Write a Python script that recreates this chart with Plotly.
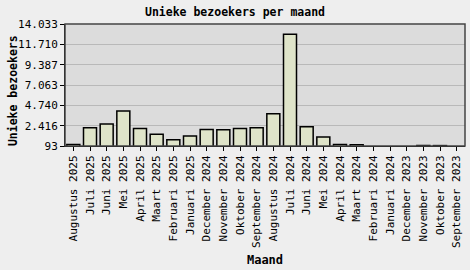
import plotly.graph_objects as go

months = ["Augustus 2025", "Juli 2025", "Juni 2025", "Mei 2025", "April 2025", "Maart 2025",
          "Februari 2025", "Januari 2025", "December 2024", "November 2024", "Oktober 2024",
          "September 2024", "Augustus 2024", "Juli 2024", "Juni 2024", "Mei 2024", "April 2024",
          "Maart 2024", "Februari 2024", "Januari 2024", "December 2023", "November 2023",
          "Oktober 2023", "September 2023"]
visitors = [260, 2190, 2610, 4100, 2080, 1440, 800, 1230, 1975, 1960, 2080, 2190, 3785,
            12860, 2295, 1125, 270, 250, 0, 0, 0, 150, 140, 0]
y_ticks = [93, 2416, 4740, 7063, 9387, 11710, 14033]
y_ticktext = ["93", "2.416", "4.740", "7.063", "9.387", "11.710", "14.033"]

mono = "DejaVu Sans Mono"

fig = go.Figure(go.Bar(
    x=months, y=visitors,
    marker=dict(color="#DFE4C9", line=dict(color="#000000", width=1.5)),
))

fig.update_layout(
    width=470, height=270,
    margin=dict(l=65, r=5, t=24, b=114),
    paper_bgcolor="#EEEEEE", plot_bgcolor="#DCDCDC",
    bargap=0.22,
    showlegend=False,
    font=dict(family=mono, size=11, color="#000000"),
    title=dict(text="<b>Unieke bezoekers per maand</b>", x=0.5, xanchor="center",
               y=1 - 12 / 270, yanchor="middle", font=dict(family=mono, size=11.5)),
    xaxis=dict(
        tickangle=-90, ticks="outside", ticklen=4, tickcolor="#000000",
        showline=True, linecolor="#000000", linewidth=1,
        showgrid=False, tickfont=dict(family=mono, size=11),
        title=dict(text="<b>Maand</b>", font=dict(family=mono, size=12), standoff=8),
    ),
    yaxis=dict(
        range=[93, 14033], tickvals=y_ticks, ticktext=y_ticktext,
        ticks="outside", ticklen=4, tickcolor="#000000",
        showline=True, linecolor="#000000", linewidth=1,
        showgrid=True, gridcolor="#B9B9B9", gridwidth=1, zeroline=False,
        tickfont=dict(family=mono, size=11),
    ),
    annotations=[dict(text="<b>Unieke bezoekers</b>", xref="paper", yref="paper",
                      x=-52 / 400, y=0.45, xanchor="center", yanchor="middle",
                      textangle=-90, showarrow=False,
                      font=dict(family=mono, size=11.5))],
    shapes=[dict(type="rect", xref="paper", yref="paper", x0=0, x1=1, y0=0, y1=1,
                 line=dict(color="#444444", width=1.5), layer="above")],
)

fig.write_html("out.html")
